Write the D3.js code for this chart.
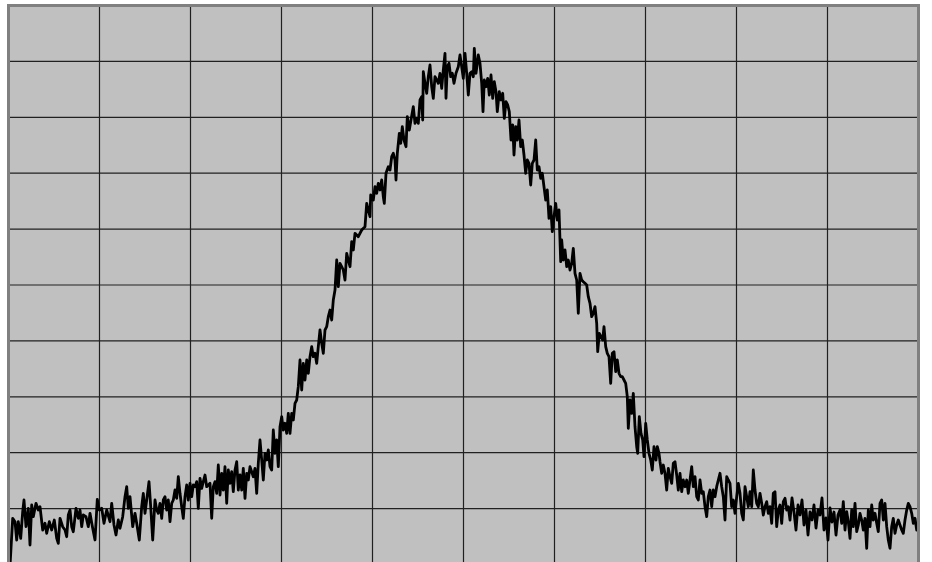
<!DOCTYPE html>
<html><head><meta charset="utf-8">
<script src="https://cdn.jsdelivr.net/npm/d3@7"></script>
<style>html,body{margin:0;padding:0;background:#fff;overflow:hidden}</style>
</head><body>
<svg id="chart" width="932" height="562"></svg>
<script>
// sample positions (arbitrary units, 0..910)
const xs = [1.5,4.2,6.5,8.2,9.8,12.2,14.2,15.5,17.5,19.8,21.5,23.2,24.8,27.5,29.8,31.5,34.2,36.5,38.2,40.8,43.2,45.8,48.2,49.8,51.5,54.2,56.5,58.2,59.8,61.5,63.2,64.8,67.5,69.8,71.5,73.2,74.8,77.5,79.8,81.5,84.2,86.5,88.8,90.8,93.2,95.5,98.2,101.5,103.2,105.5,107.5,109.8,111.5,114.2,116.5,118.2,119.8,121.5,124.2,126.5,128.2,130.8,133.2,134.8,136.5,138.2,140.5,142.2,144.2,146.5,148.2,
149.8,151.5,153.2,154.8,156.5,158.2,159.8,161.5,163.2,164.8,166.5,168.2,169.8,171.5,173.2,174.8,176.5,178.2,179.8,181.5,183.2,184.8,186.5,188.2,189.8,191.5,193.2,194.8,196.5,198.2,201.5,203.2,204.8,206.5,208.2,209.8,211.5,213.2,214.8,216.5,218.2,219.8,221.5,223.2,224.8,226.5,228.2,229.8,231.5,233.2,234.8,236.5,238.2,239.8,241.5,243.2,244.8,246.5,248.2,249.8,251.5,253.2,254.8,256.5,258.2,259.8,261.5,263.2,264.8,266.5,268.2,269.8,271.5,273.2,274.8,276.5,278.2,279.8,281.5,283.2,284.8,286.5,288.2,
289.8,291.5,293.2,294.8,296.5,298.2,299.8,301.5,303.2,304.8,306.5,308.2,309.8,311.5,313.2,314.8,316.5,318.2,319.8,321.5,323.2,324.8,326.5,328.2,329.8,331.5,333.2,334.8,336.5,338.2,339.8,341.5,343.2,344.8,346.5,349.8,353.2,356.5,358.2,359.8,361.5,362.2,364.8,366.5,368.2,369.8,371.5,373.2,374.8,375.8,377.5,379.8,381.5,383.2,384.8,386.5,387.5,388.8,390.8,392.2,393.8,395.5,397.5,398.8,400.8,402.5,404.8,406.5,408.2,409.8,411.5,413.2,414.2,414.8,416.5,418.2,419.8,421.5,423.2,424.8,426.5,428.2,429.8,431.5,433.2,434.8,436.5,437.5,438.8,440.5,442.2,443.8,445.5,447.5,449.8,451.5,
453.2,454.8,456.5,458.2,459.8,461.5,463.2,464.8,465.8,467.5,468.8,469.8,471.5,473.2,474.5,475.8,477.5,479.2,480.8,482.5,484.2,485.8,487.5,488.8,490.8,492.5,494.2,495.8,497.5,499.2,500.8,502.5,504.2,505.5,507.2,508.8,510.5,512.2,513.8,515.5,517.2,518.8,520.5,522.2,523.8,525.5,527.2,528.8,530.5,532.2,533.8,535.5,537.2,538.8,540.5,542.2,543.8,545.5,547.2,548.8,550.5,552.2,553.2,554.8,556.5,558.2,559.8,561.5,563.2,564.8,566.5,568.2,569.8,571.5,573.2,574.8,576.5,578.2,579.8,581.5,583.2,584.8,586.5,588.2,589.2,590.8,592.5,594.2,595.5,597.2,598.8,600.5,602.2,603.8,605.5,607.2,608.8,610.5,612.2,613.8,615.5,617.2,618.8,619.8,621.5,623.2,624.8,626.5,628.2,629.2,630.8,632.5,634.2,635.5,637.2,638.8,640.5,642.2,643.8,645.5,647.5,648.8,650.5,
651.5,653.2,654.8,656.5,658.2,659.8,661.5,663.2,664.8,666.5,668.2,669.8,671.5,673.2,674.8,676.5,678.2,679.8,681.5,683.2,684.8,686.5,688.2,689.8,691.5,693.2,694.8,696.5,698.2,699.8,701.5,703.2,704.8,706.5,708.2,709.8,711.5,713.2,714.8,716.5,718.2,719.8,721.5,723.2,724.8,726.5,728.2,729.8,731.5,733.2,734.8,736.5,738.2,739.8,741.5,743.2,744.8,746.5,748.2,749.8,751.5,753.2,754.8,756.5,758.2,759.8,761.5,763.2,764.8,766.5,768.2,769.8,771.5,773.2,774.8,776.5,778.2,779.8,
781.5,783.5,785.5,787.5,789.5,791.5,793.5,795.5,797.5,799.5,801.5,803.5,805.5,807.5,809.5,811.5,813.5,815.5,817.5,819.5,821.5,823.5,825.5,827.5,829.5,
831.5,833.2,834.8,836.5,838.2,839.8,841.5,843.2,844.8,846.5,848.2,849.8,851.5,853.2,854.8,856.5,858.2,859.8,861.5,863.2,864.8,866.5,868.2,869.8,871.5,873.2,874.8,876.5,878.2,879.8,881.5,883.2,884.8,886.5,888.2,889.8,891.5,893.2,894.8,896.5,898.2,899.8,901.5,903.2,904.8,906.5,908.2,909.2];
// signal level (arbitrary units, 0..559)
const ys = [-1.5,46.2,42.8,24.5,42.8,26.2,52.8,64.5,37.8,56.2,19.5,59.5,47.8,61.2,54.5,57.8,34.5,41.2,31.2,42.8,34.5,44.5,26.2,21.2,46.2,37.8,34.5,27.8,49.5,54.5,37.8,32.8,56.2,46.2,54.5,37.8,49.5,47.8,37.8,51.2,36.2,24.5,65.2,54.5,56.2,41.2,54.5,42.8,61.2,39.5,29.5,44.5,36.2,47.8,67.8,77.8,56.2,67.8,37.8,51.2,41.2,24.5,57.8,71.2,51.2,64.5,82.8,57.8,24.5,64.5,54.5,
51.2,61.2,46.2,64.5,67.8,54.5,64.5,42.8,61.2,64.5,74.5,66.2,87.8,71.2,57.8,46.2,67.8,79.5,64.5,81.2,67.8,79.5,77.8,82.8,56.2,86.2,76.2,82.8,89.5,77.8,81.2,46.2,77.8,82.8,71.2,99.5,69.5,91.2,74.5,97.8,61.2,94.5,81.2,92.8,72.8,94.5,102.8,74.5,89.5,74.5,96.2,66.2,91.2,84.5,97.8,92.8,87.8,96.2,71.2,101.2,124.5,104.5,84.5,111.2,104.5,114.5,97.8,94.5,134.5,111.2,124.5,97.8,137.8,147.8,134.5,141.2,131.2,151.2,131.2,151.2,144.5,161.2,164.5,
177.8,204.5,174.5,201.2,184.5,204.5,191.2,207.8,217.8,207.8,211.2,201.2,217.8,234.5,221.2,211.2,234.5,237.8,247.8,254.5,244.5,264.5,274.5,304.5,277.8,301.2,297.8,294.5,284.5,311.2,304.5,297.8,322.8,314.5,331.2,327.8,334.5,337.8,361.2,354.5,347.8,369.5,364.5,377.8,371.2,381.2,374.5,384.5,367.8,361.2,391.2,397.8,394.5,407.8,411.2,404.5,384.5,411.2,431.2,421.2,437.8,424.5,417.8,447.8,434.5,444.5,457.8,441.2,446.2,441.2,464.5,467.8,444.5,492.8,481.2,471.2,487.8,499.5,477.8,466.2,487.8,484.5,481.2,491.2,476.2,494.5,511.2,466.2,497.8,501.2,487.8,491.2,481.2,491.2,497.8,509.5,
497.8,486.2,511.2,491.2,469.5,491.2,492.8,487.8,516.2,491.2,501.2,509.5,501.2,481.2,452.8,484.5,477.8,486.2,469.5,489.5,466.2,482.8,472.8,452.8,472.8,464.5,471.2,446.2,462.8,459.5,452.8,424.5,439.5,409.5,437.8,424.5,444.5,417.8,424.5,409.5,391.2,404.5,401.2,379.5,401.2,404.5,424.5,394.5,397.8,386.2,391.2,377.8,364.5,374.5,346.2,357.8,332.8,347.8,361.2,344.5,354.5,302.8,324.5,304.5,314.5,297.8,304.5,294.5,301.2,316.2,291.2,284.5,251.2,291.2,284.5,282.8,281.2,279.5,267.8,261.2,247.8,251.2,257.8,241.2,212.8,231.2,227.8,224.5,237.8,217.8,211.2,207.8,181.2,211.2,212.8,192.8,204.5,191.2,187.8,187.8,184.5,181.2,167.8,136.2,164.5,151.2,171.2,137.8,117.8,111.2,147.8,131.2,124.5,107.8,141.2,124.5,111.2,104.5,94.5,117.8,104.5,117.8,111.2,
102.8,91.2,99.5,91.2,74.5,96.2,87.8,81.2,101.2,102.8,89.5,74.5,91.2,72.8,84.5,77.8,84.5,71.2,84.5,97.8,77.8,87.8,67.8,64.5,84.5,71.2,72.8,57.8,47.8,67.8,74.5,57.8,74.5,67.8,77.8,84.5,91.2,77.8,67.8,44.5,87.8,84.5,81.2,57.8,64.5,51.2,67.8,81.2,71.2,51.2,44.5,77.8,67.8,57.8,72.8,57.8,94.5,74.5,61.2,57.8,71.2,61.2,49.5,57.8,62.8,51.2,57.8,41.2,71.2,72.8,37.8,54.5,59.5,41.2,62.8,66.2,54.5,57.8,
44.5,66.5,52.5,34.5,59.5,49.5,64.5,39.5,54.5,29.5,52.5,44.5,59.5,36.5,54.5,49.5,66.5,34.5,46.5,24.5,56.5,42.5,52.5,29.5,49.5,
54.5,41.2,62.8,34.5,52.8,42.8,26.2,54.5,37.8,61.2,32.8,39.5,51.2,44.5,34.5,46.2,16.2,54.5,37.8,59.5,44.5,51.2,41.2,32.8,61.2,64.5,44.5,61.2,37.8,24.5,16.2,37.8,46.2,31.2,39.5,44.5,39.5,34.5,31.2,44.5,54.5,61.2,57.8,51.2,41.2,46.2,34.5,41.2];
// grid: 10 x 10 divisions
const xDivisions = 10;
const yDivisions = 10;
const xMax = 910;
const yMax = 559;

const svg = d3.select("#chart");
const pLeft = 8.5, pRight = 918.5, pTop = 5.5, pBottom = 564.5;
const x = d3.scaleLinear().domain([0, xMax]).range([pLeft, pRight]);
const y = d3.scaleLinear().domain([0, yMax]).range([pBottom, pTop]);

const xGrid = d3.range(1, xDivisions).map(i => i * xMax / xDivisions);
const yGrid = d3.range(1, yDivisions).map(i => i * yMax / yDivisions);

svg.append("rect").attr("x", pLeft).attr("y", pTop)
  .attr("width", pRight - pLeft).attr("height", pBottom - pTop)
  .attr("fill", "#c0c0c0");

const g = svg.append("g");
g.selectAll("line.v").data(xGrid).join("line").attr("class", "v")
  .attr("x1", d => x(d)).attr("x2", d => x(d))
  .attr("y1", pTop).attr("y2", pBottom)
  .attr("stroke", "#202020").attr("stroke-width", 1.2);
g.selectAll("line.h").data(yGrid).join("line").attr("class", "h")
  .attr("y1", d => y(d)).attr("y2", d => y(d))
  .attr("x1", pLeft).attr("x2", pRight)
  .attr("stroke", "#202020").attr("stroke-width", 1.2);

const data = xs.map((v, i) => [v, ys[i]]);
const line = d3.line().x(d => x(d[0])).y(d => y(d[1]));
svg.append("path").datum(data)
  .attr("d", line)
  .attr("fill", "none")
  .attr("stroke", "#000")
  .attr("stroke-width", 2.8)
  .attr("stroke-linejoin", "round")
  .attr("stroke-linecap", "round");

svg.append("rect").attr("x", pLeft).attr("y", pTop)
  .attr("width", pRight - pLeft).attr("height", pBottom - pTop)
  .attr("fill", "none").attr("stroke", "#808080").attr("stroke-width", 3);
</script>
</body></html>
